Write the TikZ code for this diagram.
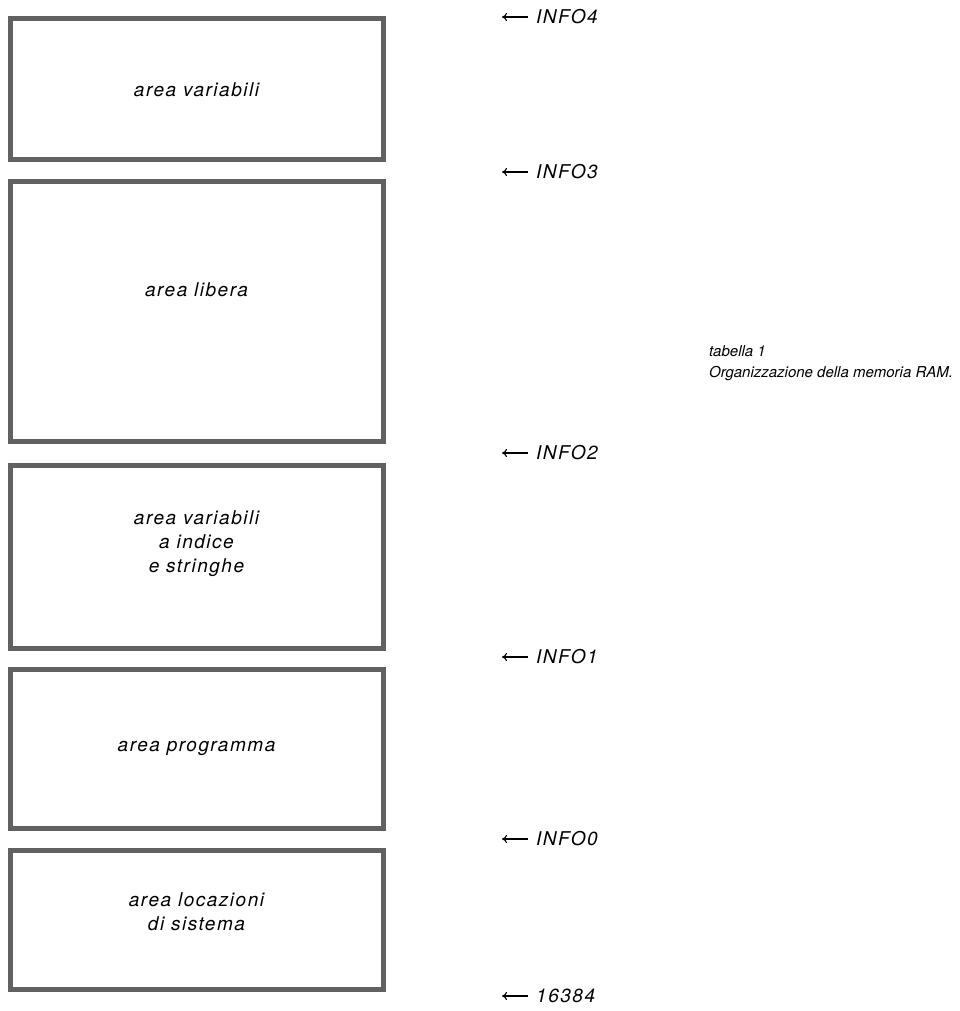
\documentclass[tikz,border=0pt]{standalone}
\usepackage{fontspec}
\setmainfont{TeX Gyre Heros}[LetterSpace=8]
\newfontfamily\capfont{TeX Gyre Heros}
\usetikzlibrary{arrows.meta}
\begin{document}
\begin{tikzpicture}[x=1pt,y=-1pt,font=\fontsize{19}{24}\selectfont\itshape,
  area/.style={draw=black!62,line width=5pt,minimum width=373pt,inner sep=0pt},
  txt/.style={align=center,inner sep=0pt},
  ptr/.style={-{To[length=5pt,width=8pt]},line width=1.1pt}]
\useasboundingbox (0,0) rectangle (959,1011);
% the five memory areas, top to bottom
\foreach \n/\y/\h in {vars/89.25/141.5,free/311.75/259.5,arrs/556.5/183,prog/748.5/159,sys/919.5/139}{\node[area,minimum height=\h pt] (\n) at (196.5,\y) {};}
\node[txt] (tvars) at (vars.center) {area variabili};
\node[txt] (tfree) at ([yshift=22pt]free.center) {area libera};
\node[txt] (tarrs) at ([yshift=13pt]arrs.center) {area variabili\\a indice\\e stringhe};
\node[txt] (tprog) at (prog.center) {area programma};
\node[txt] (tsys) at ([yshift=8pt]sys.center) {area locazioni\\di sistema};
% pointers
\foreach \n/\y/\t in {info4/17/INFO4,info3/172/INFO3,info2/453/INFO2,info1/657/INFO1,info0/839/INFO0,base/996/16384}{\node[anchor=west,inner sep=0pt] (\n) at (536,\y) {\t};\draw[ptr] ([xshift=-8pt]\n.west) -- ++(-26pt,0);}
\node[anchor=north west,align=left,inner sep=0pt,font=\capfont\fontsize{15}{21}\selectfont\itshape] (cap) at (709,345) {tabella 1\\Organizzazione della memoria RAM.};
\end{tikzpicture}
\end{document}
